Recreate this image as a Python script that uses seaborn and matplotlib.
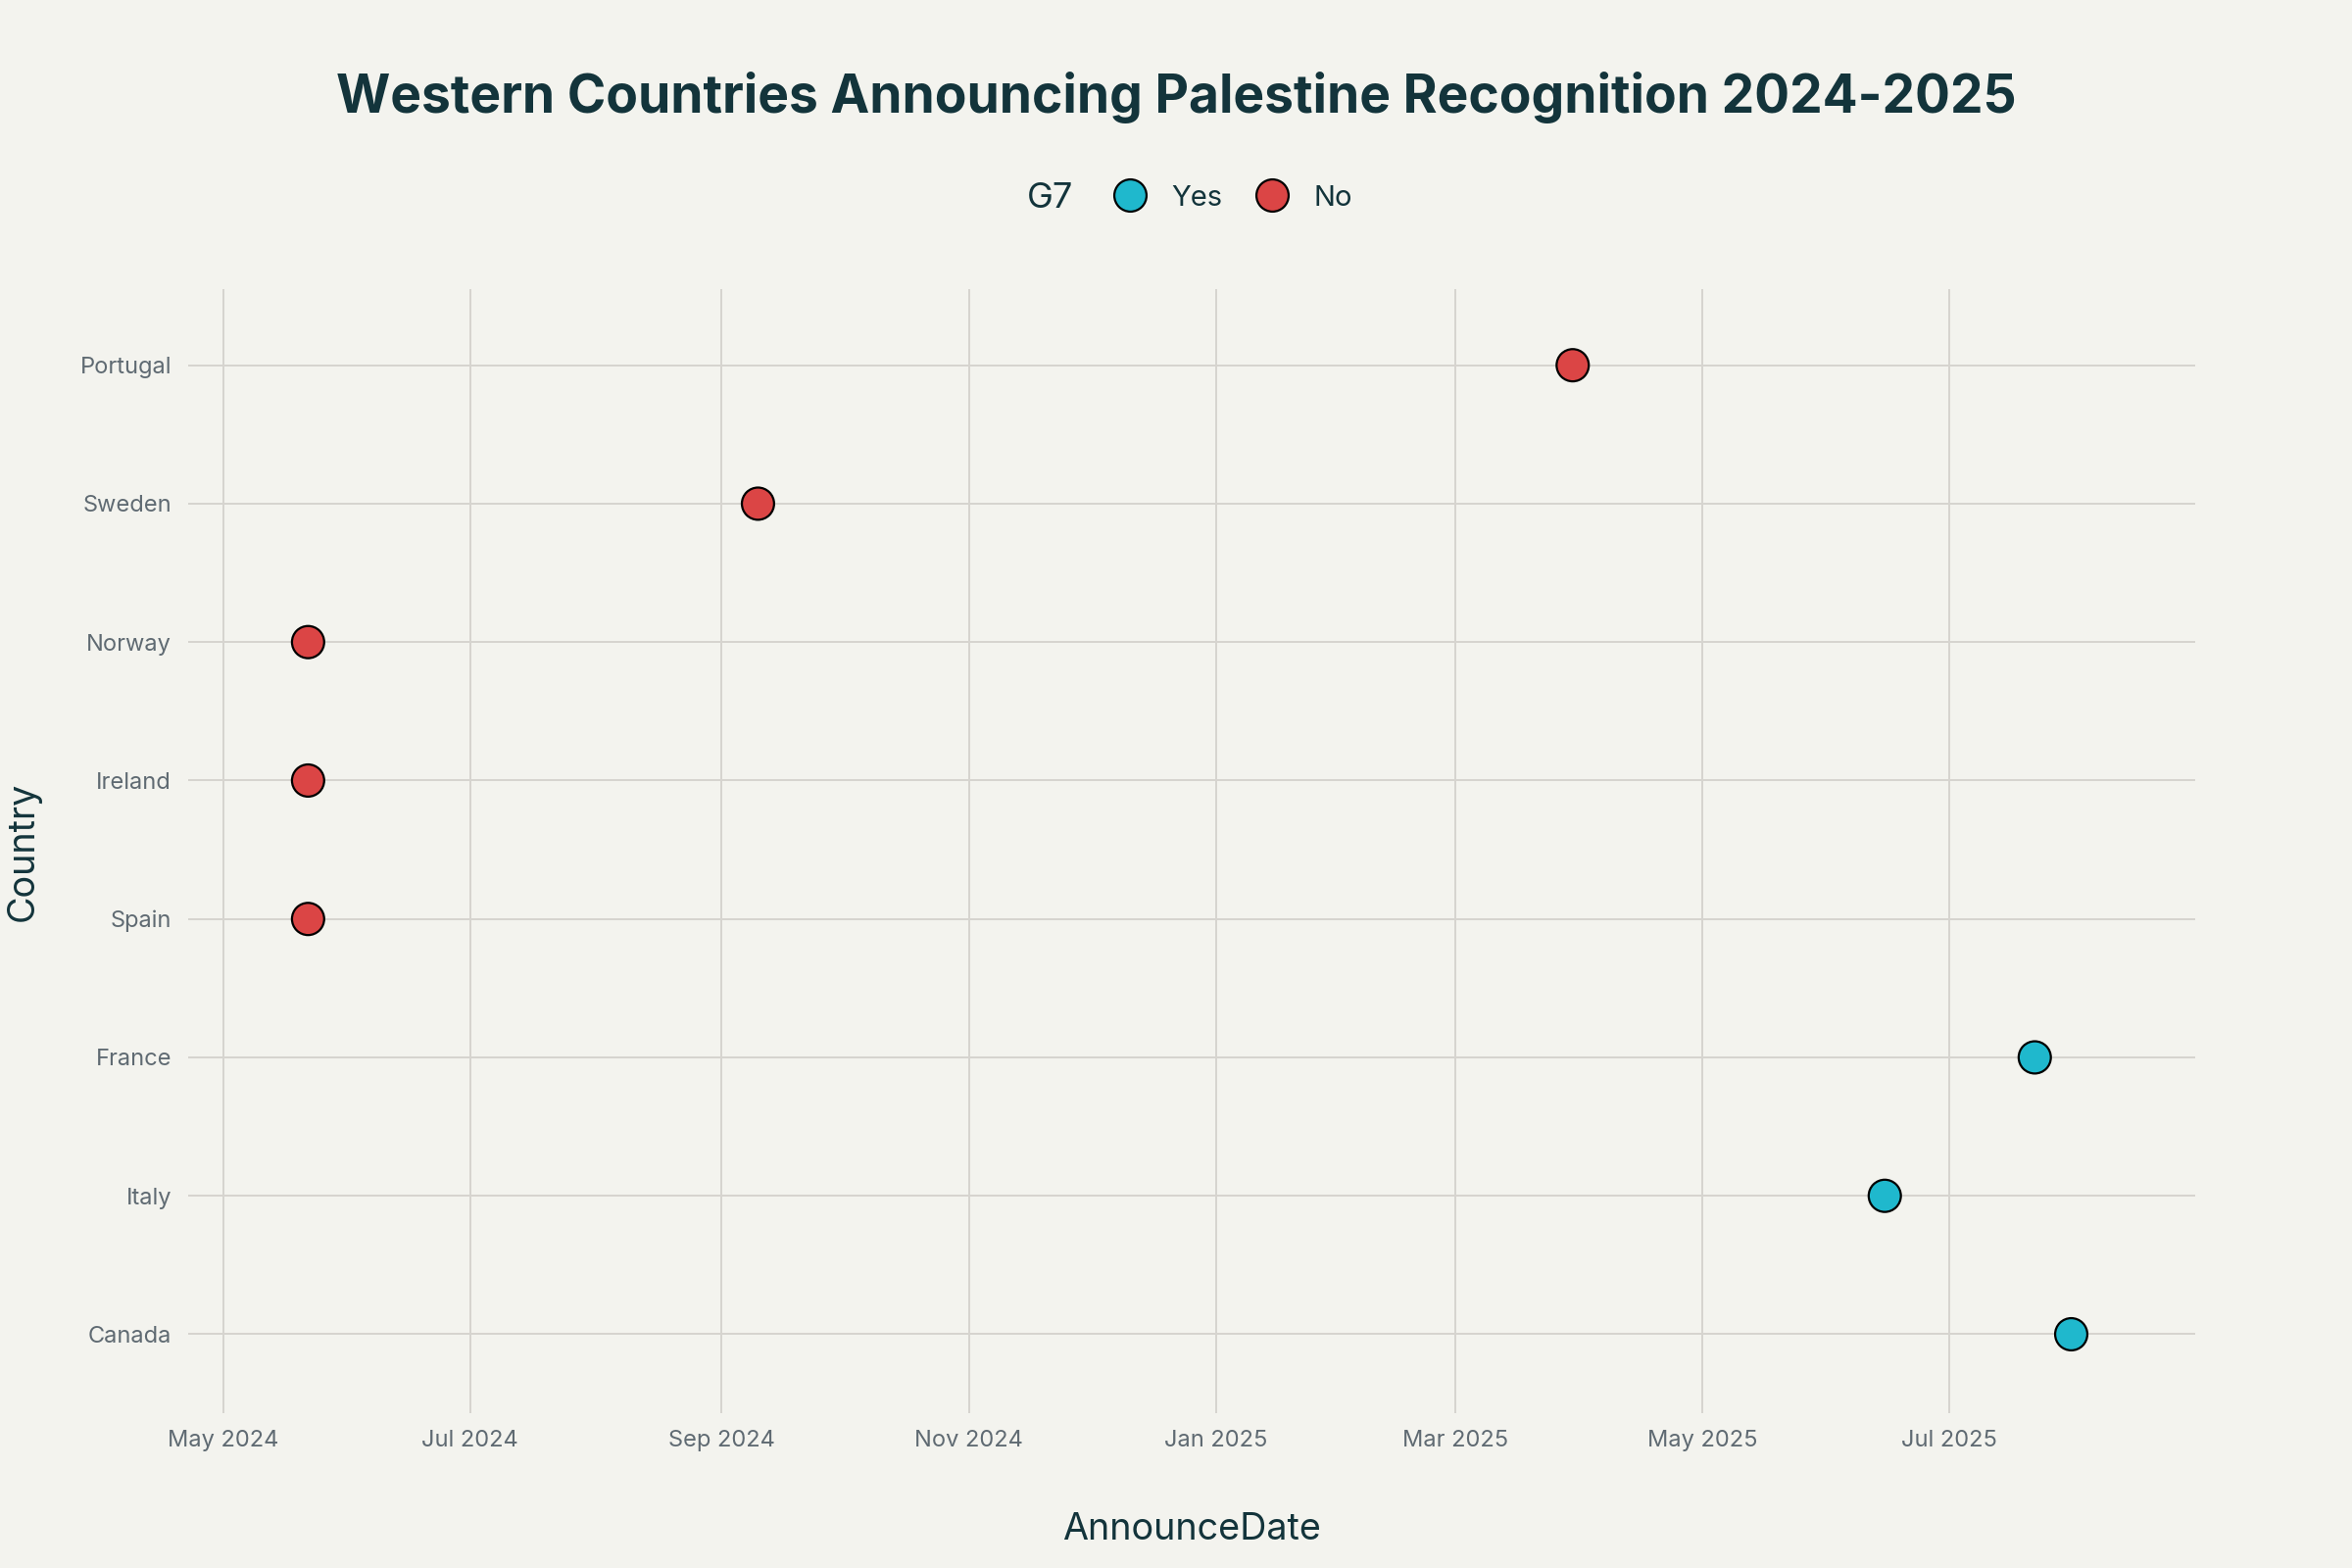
import matplotlib
matplotlib.use("Agg")
import matplotlib.pyplot as plt
import matplotlib.dates as mdates
import pandas as pd
import seaborn as sns

# values (top to bottom)
countries = ["Portugal", "Sweden", "Norway", "Ireland", "Spain", "France", "Italy", "Canada"]
announce_dates = ["2025-03-30", "2024-09-10", "2024-05-22", "2024-05-22", "2024-05-22",
                  "2025-07-22", "2025-06-15", "2025-07-31"]
g7 = ["No", "No", "No", "No", "No", "Yes", "Yes", "Yes"]
g7_order = ["Yes", "No"]
g7_colors = {"Yes": "#1FB8CD", "No": "#DB4545"}

df = pd.DataFrame({
    "Country": countries,
    "AnnounceDate": pd.to_datetime(announce_dates),
    "G7": g7,
})

bg = "#F3F3EE"
dark = "#13343B"
tick_col = "#5F6A72"
grid_col = "#D6D4CF"

sns.set_theme(style="whitegrid", rc={
    "axes.facecolor": bg,
    "figure.facecolor": bg,
    "grid.color": grid_col,
    "grid.linewidth": 0.7,
})
plt.rcParams["font.family"] = ["Inter", "DejaVu Sans"]

W, H = 2400, 1600
fig = plt.figure(figsize=(12, 8), dpi=200)
ax = fig.add_axes([192 / W, 1 - 1442 / H, (2240 - 192) / W, (1442 - 295) / H])

sns.scatterplot(data=df, x="AnnounceDate", y="Country", hue="G7", hue_order=g7_order,
                palette=g7_colors, s=140, edgecolor="black", linewidth=0.8,
                ax=ax, zorder=3, legend=True)

ax.set_xlim(pd.Timestamp("2024-04-22 10:00"), pd.Timestamp("2025-08-30 14:00"))
ax.set_ylim(len(countries) - 1 + 0.57, -0.55)

ax.xaxis.set_major_locator(mdates.MonthLocator(bymonth=[1, 3, 5, 7, 9, 11]))
ax.xaxis.set_major_formatter(mdates.DateFormatter("%b %Y"))

for s in ax.spines.values():
    s.set_visible(False)
ax.tick_params(axis="both", which="major", length=3.6, width=0.6, color=grid_col,
               labelsize=8.5, labelcolor=tick_col, pad=2.5)
ax.grid(True, axis="both", color=grid_col, linewidth=0.7)

ax.set_xlabel("AnnounceDate", fontsize=13.6, color=dark, va="center")
ax.set_ylabel("Country", fontsize=13.6, color=dark, va="center")
ax.xaxis.set_label_coords(0.5, -(1561 - 1442) / (1442 - 295))
ax.yaxis.set_label_coords(-(192 - 24) / (2240 - 192), 0.5)

# legend: horizontal, with "G7" title inline on the left
handles, labels = ax.get_legend_handles_labels()
fs = 10.5
em = fs * 200 / 72
leg = ax.legend(handles, labels, loc="center left",
                bbox_to_anchor=((1153 - em - 0.4 * em) / W, 1 - 202 / H),
                bbox_transform=fig.transFigure, borderaxespad=0, ncol=2, frameon=False,
                fontsize=fs, markerscale=1.0, handletextpad=0.44, columnspacing=0.75,
                labelcolor=dark)
fig.text(1072 / W, 1 - 202 / H, "G7", ha="center", va="center", fontsize=13, color=dark)

fig.suptitle("Western Countries Announcing Palestine Recognition 2024-2025",
             x=0.5, y=1 - 99 / H, va="center", fontsize=19.2, fontweight="bold", color=dark)

fig.savefig("out.png", dpi=200, facecolor=bg)
